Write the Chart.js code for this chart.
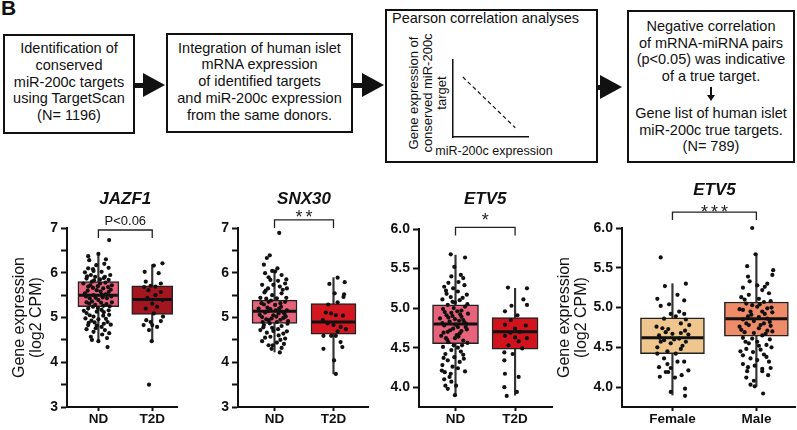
<!DOCTYPE html>
<html>
<head>
<meta charset="utf-8">
<script src="https://cdn.jsdelivr.net/npm/chart.js@4.4.1/dist/chart.umd.min.js"></script>
<style>
  body { margin:0; width:797px; height:430px; background:#fff; position:relative; overflow:hidden;
         font-family:"Liberation Sans", Arial, sans-serif; color:#111; }
  .box { position:absolute; border:2px solid #111; box-sizing:border-box; display:flex; align-items:center;
         justify-content:center; text-align:center; font-size:14.5px; line-height:16.7px; }
  .shaft { position:absolute; height:5px; background:#111; }
  .head { position:absolute; width:0; height:0; border-top:12px solid transparent;
          border-bottom:12px solid transparent; border-left:22px solid #111; }
  .lbl { position:absolute; white-space:nowrap; }
  canvas { position:absolute; }
  .down { display:inline-block; position:relative; width:10px; height:16.7px; }
  .down:before { content:""; position:absolute; left:4.3px; top:2px; width:1.5px; height:9px; background:#111; }
  .down:after { content:""; position:absolute; left:1px; top:10px; border-left:4px solid transparent;
                border-right:4px solid transparent; border-top:6px solid #111; }
</style>
</head>
<body>

<div class="lbl" style="left:1px;top:-4px;font-size:21px;font-weight:bold;">B</div>

<div class="box" style="left:3px;top:34px;width:132px;height:100px;padding-bottom:4px;">
  <div>Identification of<br>conserved<br>miR-200c targets<br>using TargetScan<br>(N= 1196)</div>
</div>
<div class="shaft" style="left:134px;top:83px;width:10px;"></div>
<div class="head" style="left:143px;top:73px;"></div>

<div class="box" style="left:166px;top:33px;width:187px;height:100px;padding-bottom:3px;">
  <div>Integration of human islet<br>mRNA expression<br>of identified targets<br>and miR-200c expression<br>from the same donors.</div>
</div>
<div class="shaft" style="left:352px;top:83px;width:11px;"></div>
<div class="head" style="left:362px;top:73px;"></div>

<div class="box" style="left:385px;top:9px;width:213px;height:154px;"></div>
<div class="lbl" style="left:392px;top:10px;font-size:14.5px;">Pearson correlation analyses</div>
<div class="lbl" style="left:363px;top:72px;width:130px;height:42px;transform:rotate(-90deg);text-align:center;font-size:13px;line-height:14px;">Gene expression of<br>conserved miR-200c<br>target</div>
<div class="lbl" style="left:434px;top:144px;width:120px;text-align:center;font-size:12.5px;">miR-200c expression</div>
<canvas id="mini" width="90" height="90" style="left:445px;top:55px;"></canvas>
<div class="shaft" style="left:597px;top:85px;width:5px;"></div>
<div class="head" style="left:600px;top:75px;"></div>

<div class="box" style="left:627px;top:10px;width:168px;height:153px;">
  <div>Negative correlation<br>of mRNA-miRNA pairs<br>(p&lt;0.05) was indicative<br>of a true target.<br><span class="down"></span><br>Gene list of human islet<br>miR-200c true targets.<br>(N= 789)</div>
</div>

<canvas id="c1" width="190" height="250" style="left:0px;top:180px;"></canvas>
<canvas id="c2" width="180" height="250" style="left:192px;top:180px;"></canvas>
<canvas id="c3" width="180" height="250" style="left:374px;top:180px;"></canvas>
<canvas id="c4" width="241" height="250" style="left:556px;top:180px;"></canvas>

<script>
// ---------------------------------------------------------------
// Data
// box stats per group: [whisker low, Q1, median, Q3, whisker high]
// points per group: [jitter (category units), value]
// ---------------------------------------------------------------
const catsDisease = ['ND', 'T2D'];
const catsSex = ['Female', 'Male'];

const jazf1Stats = [[4.46, 5.24, 5.50, 5.80, 6.45], [4.46, 5.07, 5.40, 5.71, 6.18]];
const snx30Stats = [[4.23, 4.87, 5.14, 5.39, 6.04], [3.74, 4.63, 4.90, 5.31, 5.89]];
const etv5Stats = [[3.90, 4.55, 4.80, 5.04, 5.67], [3.90, 4.48, 4.70, 4.88, 5.25]];
const etv5SexStats = [[3.90, 4.42, 4.62, 4.87, 5.30], [4.01, 4.64, 4.86, 5.07, 5.68]];

const jazf1ND = [[0.2,6.73],[-0.19,6.37],[0,6.42],[-0.17,6.28],[0.14,6.30],[-0.19,6.10],[-0.04,6.17],[0.19,6.11],
  [-0.25,6.01],[-0.09,6.04],[0.06,6.02],[0.12,5.91],[-0.06,5.91],[-0.22,5.87],[0.19,5.84],[-0.28,5.76],[-0.12,5.80],
  [0.03,5.76],[0.25,5.72],[-0.19,5.69],[0.09,5.65],[-0.03,5.61],[0.19,5.57],[-0.25,5.54],[-0.09,5.50],[0.06,5.51],
  [-0.16,5.43],[0.16,5.43],[0,5.39],[-0.22,5.34],[0.25,5.34],[-0.06,5.28],[0.09,5.26],[-0.19,5.20],[0.19,5.16],
  [-0.03,5.13],[-0.16,5.05],[0.09,5.04],[-0.24,4.98],[0,4.96],[-0.07,4.89],[0.17,4.90],[-0.19,4.83],[0.06,4.79],
  [-0.09,4.68],[0.12,4.72],[0.16,4.54],[0,4.47],[0.17,4.34],[0.03,5.85],[-0.14,5.95],[0.22,5.95],[-0.1,5.66],
  [0.13,5.78],[-0.01,5.70],[0.23,5.62],[-0.2,5.60],[0.08,5.45],[-0.12,5.36],[0.21,5.25],[-0.01,5.21],[0.1,5.12],
  [-0.27,5.15],[0.14,4.97],[-0.13,4.93],[0.23,4.84],[-0.05,4.76],[-0.14,4.57],[0.07,4.62],[-0.22,4.74],
  [-0.21,5.92],[0.1,5.88],[-0.08,5.83],[0.18,5.68],[-0.15,5.72],[0.04,5.58],[-0.23,5.47],[0.13,5.52],[-0.05,5.44],
  [0.24,5.47],[-0.17,5.31],[0.05,5.33],[-0.1,5.24],[0.15,5.30],[-0.22,5.10],[0.06,5.17],[-0.09,5.02],[0.2,5.06],
  [-0.18,4.88],[0.1,4.86],[-0.03,4.82],[0.2,4.65],[-0.12,4.50],[0.11,6.20],[-0.1,6.08]];
const jazf1T2D = [[0.19,6.21],[0.03,6.16],[-0.14,6.02],[0.12,5.99],[-0.12,5.80],[-0.03,5.71],[0.16,5.76],[0.06,5.69],
  [-0.07,5.61],[0.16,5.57],[0.06,5.50],[-0.09,5.44],[0.19,5.39],[0,5.31],[0.09,5.24],[-0.12,5.20],[0.03,5.09],
  [-0.11,4.94],[0.16,4.92],[-0.03,4.90],[-0.16,4.83],[0,4.83],[0.09,4.79],[-0.06,4.72],[-0.01,4.47],[-0.06,3.50],
  [-0.15,5.68],[0.2,5.02]];

const snx30ND = [[0.08,6.89],[-0.08,6.39],[-0.13,6.33],[-0.18,6.18],[-0.04,6.04],[0.01,6.03],[-0.16,5.99],[0.12,5.95],
  [-0.07,5.84],[0.06,5.82],[0.18,5.76],[-0.21,5.73],[-0.02,5.73],[0.09,5.69],[-0.11,5.65],[0.21,5.65],[-0.17,5.56],
  [0.12,5.54],[-0.04,5.50],[-0.24,5.44],[0.04,5.43],[-0.1,5.35],[0.18,5.35],[-0.18,5.29],[0.01,5.28],[0.11,5.24],
  [-0.27,5.20],[-0.07,5.19],[0.21,5.16],[-0.16,5.11],[0.07,5.09],[-0.02,5.05],[-0.21,5.01],[0.15,4.99],[-0.1,4.94],
  [0.23,4.92],[0.04,4.90],[-0.18,4.83],[0.12,4.81],[-0.04,4.77],[-0.24,4.72],[0.21,4.69],[-0.13,4.66],[0.07,4.60],
  [-0.07,4.57],[0.18,4.53],[-0.21,4.47],[0.04,4.44],[-0.03,4.38],[0.12,4.32],[0.09,4.22],[-0.1,4.38],[0.15,5.12],
  [-0.12,5.22],[0.02,5.16],[-0.05,4.98],[0.1,5.32],[-0.2,4.90],[0.19,5.02],[-0.14,5.42],
  [-0.15,5.60],[0.14,5.62],[-0.06,5.38],[0.2,5.44],[-0.22,5.32],[0.08,5.20],[-0.11,5.14],[0.17,5.08],[-0.25,5.06],
  [0.03,5.02],[-0.14,4.96],[0.1,4.95],[-0.08,4.87],[0.22,4.86],[-0.19,4.78],[0.06,4.74],[-0.02,4.70],[0.15,4.64],
  [-0.16,4.55],[0.1,4.50],[-0.05,4.30],[0.2,5.85],[-0.1,5.90],[0.05,6.10],[0.16,4.41]];
const snx30T2D = [[0.07,5.89],[-0.07,5.75],[0.19,5.79],[0.02,5.54],[0.18,5.52],[0.17,5.46],[-0.09,5.29],[0.07,5.34],
  [-0.13,5.11],[-0.04,5.09],[0.04,5.05],[0.16,5.04],[-0.18,4.94],[-0.1,4.87],[0,4.83],[0.12,4.79],[0.21,4.74],
  [0.07,4.69],[-0.17,4.59],[-0.04,4.59],[0.04,4.59],[0.12,4.45],[0.15,4.34],[-0.17,4.30],[0.01,4.04],[0.04,3.74]];

const etv5ND = [[-0.08,5.68],[0.16,5.64],[-0.02,5.52],[0.09,5.42],[-0.07,5.40],[0.13,5.38],[-0.12,5.32],[0.15,5.29],
  [-0.19,5.27],[-0.04,5.25],[0.04,5.21],[-0.15,5.18],[0.19,5.17],[-0.08,5.14],[-0.22,5.11],[0.07,5.10],[-0.01,5.07],
  [-0.13,5.04],[0.16,5.02],[-0.21,4.99],[0.03,4.96],[-0.07,4.94],[0.21,4.93],[-0.15,4.91],[0.1,4.89],[-0.26,4.87],
  [-0.01,4.86],[-0.1,4.83],[0.15,4.82],[-0.19,4.78],[0.04,4.76],[-0.04,4.74],[0.19,4.73],[-0.13,4.70],[0.07,4.68],
  [-0.24,4.65],[-0.01,4.62],[0.13,4.59],[-0.12,4.57],[-0.21,4.51],[0.04,4.50],[-0.07,4.47],[-0.17,4.42],[0.13,4.41],
  [-0.02,4.38],[-0.13,4.34],[0.07,4.32],[-0.22,4.28],[0.16,4.20],[-0.18,4.19],[-0.08,4.17],[-0.1,4.13],[-0.19,4.10],
  [-0.07,4.07],[-0.17,4.02],[-0.13,3.98],[-0.01,3.90],[0.04,4.24],[0.1,4.97],[-0.05,4.90],[0.18,4.80],[0.02,4.66],
  [-0.16,4.62],[0.11,4.53],[-0.03,5.00],[0.06,4.84],
  [0.05,5.33],[-0.16,5.22],[0.12,5.13],[-0.05,5.08],[0.2,5.05],[-0.18,4.95],[0.08,4.92],[-0.12,4.88],[0.13,4.85],
  [-0.22,4.81],[0,4.79],[0.17,4.76],[-0.09,4.72],[0.1,4.71],[-0.2,4.69],[0.05,4.64],[-0.14,4.60],[0.2,4.56],
  [-0.03,4.53],[0.09,4.45],[-0.2,4.37],[0.14,4.36],[-0.05,4.26],[-0.23,4.21],[0.01,4.02]];
const etv5T2D = [[-0.12,5.26],[0.2,5.25],[0.14,5.11],[0.2,5.04],[-0.06,5.03],[-0.17,4.96],[0.04,4.91],[-0.07,4.85],
  [-0.17,4.79],[0,4.74],[0.18,4.78],[0.08,4.70],[-0.08,4.69],[-0.17,4.65],[0,4.63],[0.2,4.62],[0.06,4.58],
  [-0.11,4.53],[0.12,4.49],[-0.18,4.44],[-0.04,4.42],[-0.18,4.34],[-0.17,4.17],[0.06,4.13],[-0.18,4.00],
  [0.03,3.94],[-0.14,3.89]];

const etv5Female = [[-0.14,5.63],[-0.09,5.27],[0.16,5.30],[-0.18,5.11],[-0.04,5.04],[0.14,5.09],[-0.14,5.02],
  [-0.02,4.92],[0.08,4.95],[0.14,4.92],[0.04,4.89],[0.16,4.85],[-0.19,4.76],[-0.12,4.74],[0.1,4.80],[-0.08,4.69],
  [0.15,4.71],[-0.16,4.65],[0,4.67],[0.19,4.66],[-0.1,4.59],[0.08,4.61],[-0.14,4.57],[-0.02,4.55],[0.16,4.57],
  [-0.18,4.50],[0.1,4.48],[-0.06,4.45],[0.04,4.42],[-0.18,4.42],[0.14,4.32],[0.06,4.32],[-0.06,4.29],[-0.16,4.25],
  [-0.02,4.24],[-0.08,4.19],[-0.15,4.13],[-0.05,4.19],[0.19,4.21],[0.11,4.15],[0.15,3.98],[-0.02,3.94],[0.15,3.89],
  [0.06,5.16],[-0.1,4.86],[0.2,4.78],[-0.05,4.73],[0.1,4.68],[-0.15,4.62],[0.02,4.60],[0.12,4.52],[-0.1,4.36],
  [0.03,4.12]];
const etv5Male = [[-0.05,6.0],[-0.01,5.67],[-0.11,5.52],[0.2,5.47],[0.19,5.41],[-0.1,5.39],[0.13,5.30],[-0.16,5.25],
  [0.01,5.28],[0.07,5.22],[-0.09,5.16],[0.15,5.18],[-0.18,5.13],[0.03,5.11],[0.09,5.07],[0.17,5.08],[-0.12,5.05],
  [-0.05,5.03],[0.01,5.01],[0.13,4.99],[-0.16,4.97],[0.07,4.95],[-0.07,4.95],[0.19,4.94],[-0.1,4.89],[0.03,4.88],
  [0.13,4.86],[-0.16,4.85],[-0.03,4.83],[0.09,4.80],[-0.09,4.78],[0.17,4.77],[-0.2,4.76],[0.03,4.74],[0.13,4.71],
  [-0.14,4.69],[-0.03,4.68],[0.19,4.70],[0.07,4.65],[-0.16,4.62],[0.01,4.57],[-0.09,4.55],[0.12,4.53],[-0.12,4.48],
  [0.05,4.47],[-0.04,4.44],[0.18,4.50],[-0.16,4.40],[0.09,4.41],[-0.07,4.36],[0.01,4.34],[-0.16,4.29],[0.15,4.32],
  [-0.1,4.25],[0.07,4.23],[0.17,4.24],[-0.11,4.20],[0.07,4.20],[-0.03,4.08],[-0.07,4.03],[-0.02,4.01],[0.08,3.92],
  [-0.08,5.33],[0.1,5.26],[-0.14,5.10],[0.04,5.04],[0.18,5.00],[-0.2,4.98],[0.1,4.92],[-0.06,4.91],[0.16,4.82],
  [-0.12,4.80],[0.05,4.78],[-0.18,4.72],[0.11,4.67],[-0.05,4.61],[0.16,4.60],[-0.13,4.57],[0.03,4.52],[-0.19,4.45],
  [0.12,4.38],[-0.02,4.27],[0.14,4.15],[-0.12,4.12]];

// schematic correlation line in the "Pearson" box
const miniX = [0.13, 0.83];
const miniY = [0.78, 0.12];

// ---------------------------------------------------------------
const FONT = '"Liberation Sans", Arial, sans-serif';
const INK = '#111';

// title, significance bracket and label drawn against the chart scales
const panelDecor = {
  id: 'panelDecor',
  afterDraw(chart, args, o) {
    const {ctx, chartArea, scales: {x, y}} = chart;
    const x0 = x.getPixelForValue(0), x1 = x.getPixelForValue(1), mid = x.getPixelForValue(0.5);
    ctx.save();
    ctx.fillStyle = INK;
    ctx.textAlign = 'center';
    ctx.textBaseline = 'middle';
    ctx.font = 'italic bold 17px ' + FONT;
    ctx.fillText(o.title, mid, chartArea.top - o.titleGap);

    const by = y.getPixelForValue(o.bracketY);
    ctx.strokeStyle = '#222';
    ctx.lineWidth = 1.3;
    ctx.beginPath();
    ctx.moveTo(x0, by + 8); ctx.lineTo(x0, by); ctx.lineTo(x1, by); ctx.lineTo(x1, by + 8);
    ctx.stroke();

    if (o.stars) {
      ctx.font = '18px ' + FONT;
      ctx.fillStyle = '#222';
      ctx.letterSpacing = '3px';
      ctx.textBaseline = 'alphabetic';
      ctx.fillText(o.sig, mid + 1.5, by - o.sigGap + 10.5);
    } else {
      ctx.font = '13px ' + FONT;
      ctx.fillText(o.sig, mid, by - o.sigGap);
    }
    ctx.restore();
  }
};

function makePanel(id, cfg) {
  const pts = [];
  cfg.points.forEach((grp, i) => grp.forEach(([j, v]) => pts.push({x: i + j, y: v})));
  const tickFont = {family: FONT, size: 14, weight: 'bold'};

  return new Chart(document.getElementById(id), {
    type: 'bar',
    data: {
      datasets: [
        { type: 'scatter', data: pts, pointRadius: 2.1, pointBackgroundColor: INK,
          pointBorderWidth: 0, order: 0, clip: false },
        { type: 'scatter', data: cfg.stats.map((s, i) => ({x: i, y: s[2]})), pointStyle: 'line',
          pointRadius: cfg.boxW / 2 - 1, pointBorderWidth: 3, pointBorderColor: INK, order: 1 },
        { data: cfg.stats.map((s, i) => ({x: i, y: [s[1], s[3]]})), backgroundColor: cfg.colors,
          borderColor: '#222', borderWidth: 1.5, borderSkipped: false, barThickness: cfg.boxW,
          grouped: false, order: 2 },
        { data: cfg.stats.map((s, i) => ({x: i, y: [s[0], s[4]]})), backgroundColor: '#333',
          barThickness: 1.5, grouped: false, order: 3 }
      ]
    },
    options: {
      responsive: false,
      animation: false,
      events: [],
      layout: { autoPadding: false, padding: { top: cfg.padTop, right: cfg.padRight, bottom: 0, left: 0 } },
      plugins: {
        legend: { display: false },
        tooltip: { enabled: false },
        panelDecor: cfg.decor
      },
      scales: {
        x: {
          type: 'linear', min: cfg.xMin, max: cfg.xMax, offset: false,
          afterBuildTicks: s => { s.ticks = cfg.cats.map((c, i) => ({value: i})); },
          afterFit: s => { s.height = 23; s.paddingLeft = 0; s.paddingRight = 0; },
          ticks: { callback: v => cfg.cats[v], color: INK, font: {family: FONT, size: 13.5, weight: 'bold'},
                   padding: 0, maxRotation: 0, autoSkip: false },
          grid: { drawOnChartArea: false, offset: false, tickLength: 4, tickWidth: 2, tickColor: INK },
          border: { color: INK, width: 2 }
        },
        y: {
          min: cfg.yMin, max: cfg.yMax, beginAtZero: false,
          afterFit: s => { s.width = cfg.yW; },
          ticks: { stepSize: cfg.step, includeBounds: false, autoSkip: false, color: INK, font: tickFont,
                   padding: 3, callback: cfg.tickFmt },
          grid: { drawOnChartArea: false, tickLength: 6, tickWidth: 2, tickColor: INK },
          border: { color: INK, width: 2 },
          title: { display: !!cfg.yTitle, text: cfg.yTitle, color: INK,
                   font: {family: FONT, size: 16, lineHeight: 1.05},
                   padding: {top: cfg.yTitlePad || 0, bottom: 0} }
        }
      }
    },
    plugins: [panelDecor]
  });
}

const wholeOnly = v => (Number.isInteger(v) ? v : '');
const oneDecimal = v => v.toFixed(1);
const yTitle = ['Gene expression', '(log2 CPM)'];

makePanel('c1', {
  cats: catsDisease, stats: jazf1Stats, points: [jazf1ND, jazf1T2D], colors: ['#E7637B', '#A3151F'],
  boxW: 41, xMin: -0.583, xMax: 1.46, yMin: 3, yMax: 7, step: 0.5, tickFmt: wholeOnly,
  yW: 67, padTop: 48, padRight: 13, yTitle: yTitle, yTitlePad: 11.6,
  decor: { title: 'JAZF1', titleGap: 29, bracketY: 6.955, sig: 'P<0.06', sigGap: 8.5, stars: false }
});

makePanel('c2', {
  cats: catsDisease, stats: snx30Stats, points: [snx30ND, snx30T2D], colors: ['#E7637B', '#D3161F'],
  boxW: 45, xMin: -0.619, xMax: 1.585, yMin: 3, yMax: 7, step: 0.5, tickFmt: wholeOnly,
  yW: 46, padTop: 48, padRight: 4,
  decor: { title: 'SNX30', titleGap: 29, bracketY: 7.18, sig: '**', sigGap: 7, stars: true }
});

makePanel('c3', {
  cats: catsDisease, stats: etv5Stats, points: [etv5ND, etv5T2D], colors: ['#E7637B', '#D0131C'],
  boxW: 46, xMin: -0.613, xMax: 1.62, yMin: 3.75, yMax: 6, step: 0.5, tickFmt: oneDecimal,
  yW: 45, padTop: 49, padRight: 2,
  decor: { title: 'ETV5', titleGap: 30, bracketY: 6.02, sig: '*', sigGap: 12, stars: true }
});

makePanel('c4', {
  cats: catsSex, stats: etv5SexStats, points: [etv5Female, etv5Male], colors: ['#EFC68E', '#EE8B69'],
  boxW: 64, xMin: -0.601, xMax: 1.46, yMin: 3.75, yMax: 6, step: 0.5, tickFmt: oneDecimal,
  yW: 66, padTop: 48, padRight: 2, yTitle: yTitle, yTitlePad: 0.6,
  decor: { title: 'ETV5', titleGap: 38, bracketY: 6.2, sig: '***', sigGap: 5, stars: true }
});

// small schematic chart inside the Pearson box
new Chart(document.getElementById('mini'), {
  type: 'line',
  data: { datasets: [{ data: miniX.map((x, i) => ({x, y: miniY[i]})), borderColor: INK, borderWidth: 1.2,
                       borderDash: [4, 3], pointRadius: 0 }] },
  options: {
    responsive: false, animation: false, events: [],
    layout: { autoPadding: false, padding: { top: 5, right: 7, bottom: 0, left: 0 } },
    plugins: { legend: { display: false }, tooltip: { enabled: false } },
    scales: {
      x: { type: 'linear', min: 0, max: 1, afterFit: s => { s.height = 8; },
           ticks: { display: false }, grid: { display: false }, border: { color: INK, width: 1.5 } },
      y: { type: 'linear', min: 0, max: 1, afterFit: s => { s.width = 8; },
           ticks: { display: false }, grid: { display: false }, border: { color: INK, width: 1.5 } }
    }
  }
});
</script>
</body>
</html>
